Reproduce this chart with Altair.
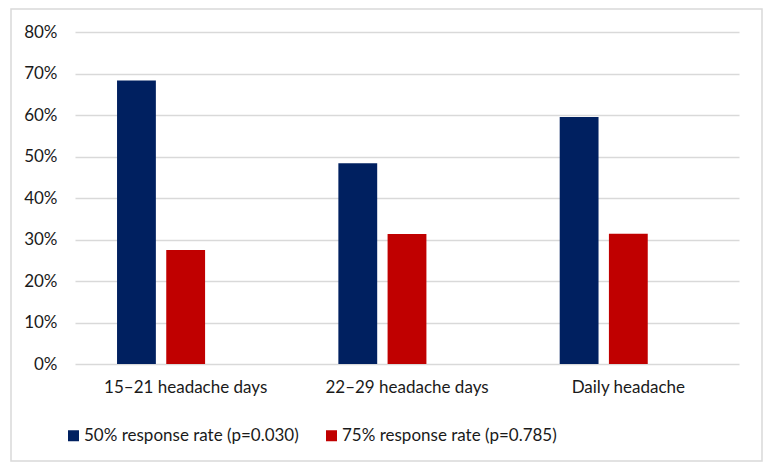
import altair as alt
import pandas as pd

categories = ["15–21 headache days", "22–29 headache days", "Daily headache"]
series_names = ["50% response rate (p=0.030)", "75% response rate (p=0.785)"]
rate_50 = [0.683, 0.484, 0.595]
rate_75 = [0.275, 0.313, 0.314]
colors = ["#002060", "#C00000"]
y_ticks = [0, 0.1, 0.2, 0.3, 0.4, 0.5, 0.6, 0.7, 0.8]

rows = []
for i, c in enumerate(categories):
    rows.append({"category": c, "series": series_names[0], "value": rate_50[i]})
    rows.append({"category": c, "series": series_names[1], "value": rate_75[i]})
df = pd.DataFrame(rows)

FONT = "Lato"
TXT = "#1a1a1a"
FS = 17

bars = alt.Chart(df).mark_bar().encode(
    x=alt.X("category:N", sort=categories,
            scale=alt.Scale(paddingInner=0, paddingOuter=0),
            axis=alt.Axis(title=None, labelAngle=0, ticks=False, domain=False,
                          labelFontSize=FS, labelFont=FONT, labelColor=TXT,
                          labelPadding=15, grid=False)),
    xOffset=alt.XOffset("series:N",
                        scale=alt.Scale(domain=series_names + ["_blank"],
                                        paddingInner=0.211, paddingOuter=0.854)),
    y=alt.Y("value:Q",
            scale=alt.Scale(domain=[0, 0.8], nice=False),
            axis=alt.Axis(title=None, format=".0%", values=y_ticks, ticks=False,
                          domain=False, labelFontSize=FS, labelFont=FONT,
                          labelColor=TXT, labelPadding=18, gridColor="#d9d9d9",
                          gridWidth=1.5)),
    color=alt.Color("series:N", sort=series_names,
                    scale=alt.Scale(domain=series_names, range=colors),
                    legend=alt.Legend(title=None, orient="none", direction="horizontal",
                                      legendX=-10, legendY=395,
                                      symbolType="square", symbolSize=121,
                                      symbolStrokeWidth=0, labelFontSize=FS,
                                      labelFont=FONT, labelColor=TXT,
                                      labelOffset=2, columnPadding=24,
                                      labelLimit=400)),
)

frame = alt.Chart(pd.DataFrame({"a": [0]})).mark_rect(
    filled=False, stroke="#d9d9d9", strokeWidth=1.5
).encode(
    x=alt.value(-64), x2=alt.value(687), y=alt.value(-23), y2=alt.value(429)
)

chart = alt.layer(frame, bars).properties(
    width=664, height=332,
    autosize=alt.AutoSizeParams(type="none"),
    padding={"left": 67, "top": 24, "right": 24, "bottom": 98},
).configure(
    background="white",
    view=alt.ViewConfig(stroke="transparent", strokeWidth=0),
)

chart.save("out.html", embed_options={"renderer": "svg", "actions": False})
